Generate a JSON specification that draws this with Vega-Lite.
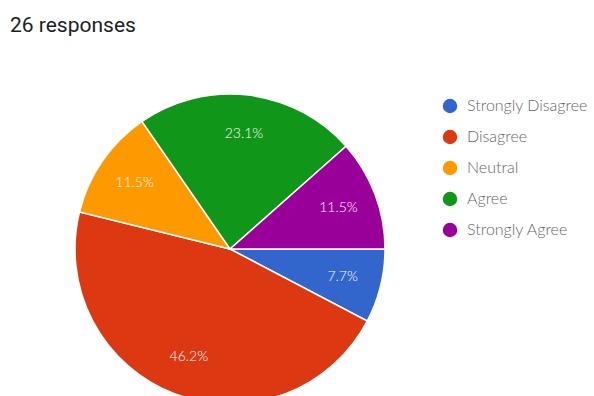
{
  "$schema": "https://vega.github.io/schema/vega-lite/v6.json",
  "width": 460,
  "height": 378,
  "autosize": {"type": "none"},
  "padding": {"left": 0, "top": 60, "right": 134, "bottom": 0},
  "background": "white",
  "title": {
    "text": "26 responses",
    "anchor": "start",
    "frame": "group",
    "offset": 24,
    "dx": 10,
    "font": "Roboto",
    "fontSize": 21,
    "fontWeight": "normal",
    "color": "#202124"
  },
  "config": {"view": {"stroke": null}},
  "data": {
    "values": [
      {"answer": "Strongly Disagree", "count": 2, "rank": 1, "pct": "7.7%"},
      {"answer": "Disagree", "count": 12, "rank": 2, "pct": "46.2%"},
      {"answer": "Neutral", "count": 3, "rank": 3, "pct": "11.5%"},
      {"answer": "Agree", "count": 6, "rank": 4, "pct": "23.1%"},
      {"answer": "Strongly Agree", "count": 3, "rank": 5, "pct": "11.5%"}
    ]
  },
  "encoding": {
    "theta": {"field": "count", "type": "quantitative", "stack": true, "scale": {"range": [1.5708, 7.8540]}},
    "order": {"field": "rank", "type": "quantitative"},
    "color": {
      "field": "answer",
      "type": "nominal",
      "scale": {
        "domain": ["Strongly Disagree", "Disagree", "Neutral", "Agree", "Strongly Agree"],
        "range": ["#3366CC", "#DC3912", "#FF9900", "#109618", "#990099"]
      },
      "legend": {
        "title": null,
        "orient": "none",
        "legendX": 442,
        "legendY": 38,
        "symbolType": "circle",
        "symbolSize": 210,
        "symbolStrokeWidth": 0,
        "labelFont": "Lato",
        "labelFontWeight": 300,
        "labelFontSize": 16,
        "labelColor": "#666666",
        "labelOffset": 9,
        "rowPadding": 15,
        "labelLimit": 200
      }
    }
  },
  "layer": [
    {"mark": {"type": "arc", "outerRadius": 155, "stroke": "white", "strokeWidth": 1.5}},
    {
      "mark": {"type": "text", "radius": 116, "font": "Lato", "fontWeight": 300, "fontSize": 14, "color": "white", "baseline": "middle"},
      "encoding": {"text": {"field": "pct", "type": "nominal"}, "color": {"value": "white"}}
    }
  ]
}
